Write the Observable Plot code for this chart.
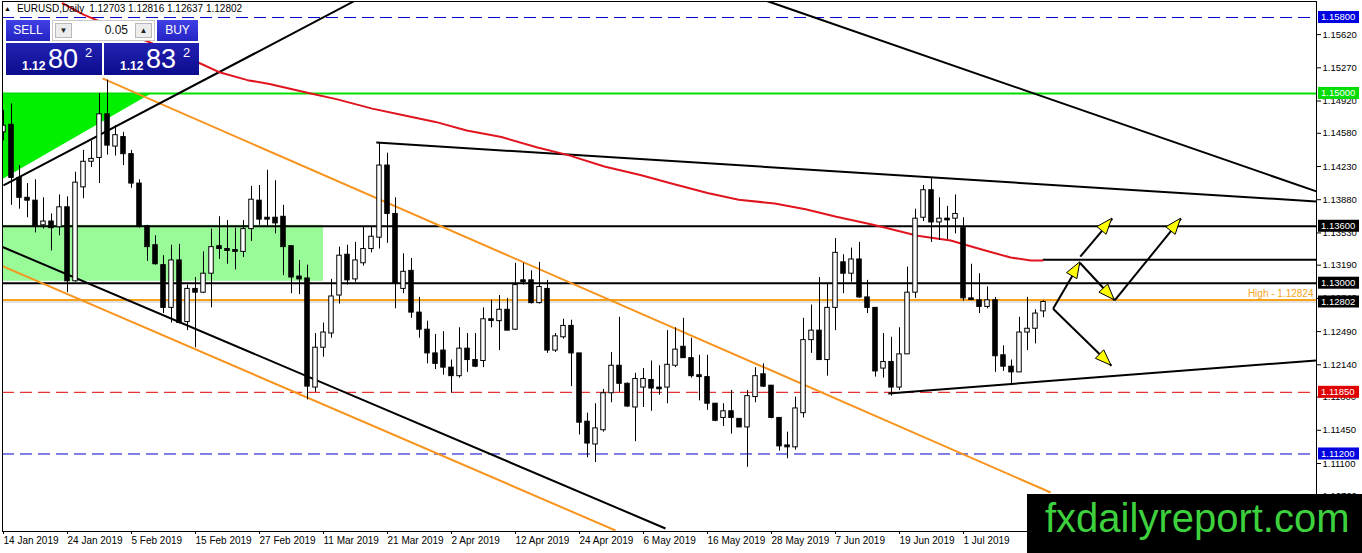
<!DOCTYPE html>
<html><head><meta charset="utf-8">
<script src="https://cdn.jsdelivr.net/npm/d3@7"></script>
<script src="https://cdn.jsdelivr.net/npm/@observablehq/plot@0.6"></script>
<style>
body{margin:0;background:#fff;overflow:hidden;font-family:"Liberation Sans",Arial,sans-serif}
#wrap{position:relative;width:1362px;height:553px;overflow:hidden}
#chart{position:absolute;left:0;top:0}
.abs{position:absolute}
#title{left:4px;top:3px;font-size:10px;color:#000;white-space:nowrap;line-height:12px}
#title .tri{font-size:7px;margin-right:6px;vertical-align:1px}
#title .q{margin-left:5px}
#sellBtn,#buyBtn{top:20px;height:21px;background:linear-gradient(#4040e6,#2424c4);color:#fff;font-size:12px;text-align:center;line-height:21px}
#sellBtn{left:6px;width:44px}
#buyBtn{left:157px;width:41px}
#lotBox{left:52px;top:20px;width:103px;height:21px;background:#fff;border:1px solid #c8c8c8;box-sizing:border-box}
#lotBox .btn{position:absolute;top:2px;width:17px;height:15px;background:#ececec;border:1px solid #b8b8b8;box-sizing:border-box;font-size:8px;line-height:13px;text-align:center;color:#222}
#lotBox .dn{left:2px}
#lotBox .up{right:2px}
#lotBox .lot{position:absolute;right:26px;top:0;line-height:19px;font-size:12px;color:#111}
.px{top:43px;height:32px;background:linear-gradient(#2222b4,#0c0c8c);color:#fff}
#sellPx{left:6px;width:96px}
#buyPx{left:104px;width:95px}
.px span{position:absolute;line-height:normal;white-space:nowrap}
.px .s{left:16px;top:16px;font-size:12px;font-weight:bold}
.px .b{left:42px;top:1px;font-size:27px}
.px .sup{left:79px;top:2px;font-size:13px}
#wm{left:1027px;top:494px;width:335px;height:59px;background:#000}
#wm span{position:absolute;left:18px;top:2px;font-size:40px;line-height:normal;color:#3dd23d;white-space:nowrap}
</style></head>
<body><div id="wrap"><div id="chart"></div>
<div id="title" class="abs"><span class="tri">▲</span>EURUSD,Daily<span class="q">1.12703 1.12816 1.12637 1.12802</span></div>
<div id="sellBtn" class="abs">SELL</div>
<div id="lotBox" class="abs"><div class="btn dn">▼</div><div class="lot">0.05</div><div class="btn up">▲</div></div>
<div id="buyBtn" class="abs">BUY</div>
<div id="sellPx" class="abs px"><span class="s">1.12</span><span class="b">80</span><span class="sup">2</span></div>
<div id="buyPx" class="abs px"><span class="s">1.12</span><span class="b">83</span><span class="sup">2</span></div>
<div id="wm" class="abs"><span>fxdailyreport.com</span></div>
</div>
<script>
// ---- Daily candles (bar index 0 = 14 Jan 2019) ----
const open = [1.1459,1.1467,1.1411,1.1390,1.1387,1.1361,1.1365,1.1359,1.1380,1.1302,
1.1401,1.1428,1.1432,1.1478,1.1444,1.1454,1.1436,1.1405,1.1360,1.1340,
1.1319,1.1274,1.1324,1.1259,1.1294,1.1290,1.1310,1.1339,1.1336,1.1335,
1.1333,1.1357,1.1387,1.1369,1.1369,1.1370,1.1339,1.1307,1.1305,1.1190,
1.1232,1.1247,1.1287,1.1330,1.1304,1.1321,1.1336,1.1348,1.1424,1.1373,
1.1294,1.1313,1.1269,1.1251,1.1226,1.1229,1.1211,1.1202,1.1231,1.1219,
1.1218,1.1262,1.1260,1.1272,1.1251,1.1303,1.1303,1.1279,1.1294,1.1229,
1.1243,1.1255,1.1226,1.1154,1.1130,1.1145,1.1184,1.1213,1.1194,1.1169,
1.1190,1.1198,1.1190,1.1190,1.1213,1.1233,1.1221,1.1203,1.1201,1.1173,
1.1158,1.1165,1.1157,1.1148,1.1180,1.1204,1.1192,1.1158,1.1129,1.1127,
1.1163,1.1240,1.1250,1.1219,1.1274,1.1322,1.1310,1.1325,1.1285,1.1274,
1.1210,1.1217,1.1190,1.1225,1.1290,1.1369,1.1398,1.1364,1.1368,1.1368,
1.1358,1.1284,1.1282,1.1275,1.1282,1.1224,1.1212,1.1206,1.1248,1.1252,
1.12703];
const high = [1.1482,1.1489,1.1424,1.1405,1.1409,1.1390,1.1373,1.1393,1.1391,1.1417,
1.1440,1.1450,1.1500,1.1514,1.1466,1.1459,1.1440,1.1409,1.1361,1.1350,
1.1329,1.1340,1.1341,1.1298,1.1306,1.1333,1.1357,1.1370,1.1366,1.1358,
1.1366,1.1402,1.1403,1.1419,1.1408,1.1382,1.1339,1.1324,1.1319,1.1247,
1.1258,1.1304,1.1338,1.1340,1.1343,1.1359,1.1359,1.1448,1.1437,1.1390,
1.1331,1.1326,1.1285,1.1260,1.1246,1.1249,1.1219,1.1253,1.1247,1.1247,
1.1274,1.1282,1.1287,1.1284,1.1321,1.1321,1.1313,1.1322,1.1303,1.1247,
1.1262,1.1261,1.1226,1.1163,1.1173,1.1188,1.1227,1.1264,1.1195,1.1205,
1.1210,1.1218,1.1213,1.1250,1.1253,1.1263,1.1242,1.1224,1.1224,1.1173,
1.1173,1.1187,1.1157,1.1187,1.1211,1.1215,1.1192,1.1158,1.1143,1.1180,
1.1263,1.1277,1.1306,1.1300,1.1347,1.1330,1.1337,1.1343,1.1303,1.1274,
1.1247,1.1243,1.1253,1.1317,1.1378,1.1403,1.1411,1.1390,1.1381,1.1393,
1.1369,1.1320,1.1310,1.1296,1.1285,1.1234,1.1219,1.1264,1.1285,1.1272,
1.12816];
const low = [1.1450,1.1382,1.1378,1.1369,1.1353,1.1357,1.1334,1.1350,1.1290,1.1301,
1.1389,1.1422,1.1405,1.1435,1.1434,1.1424,1.1400,1.1358,1.1323,1.1319,
1.1268,1.1258,1.1257,1.1250,1.1232,1.1289,1.1274,1.1325,1.1320,1.1314,
1.1327,1.1344,1.1361,1.1359,1.1352,1.1308,1.1289,1.1288,1.1177,1.1185,
1.1222,1.1242,1.1278,1.1298,1.1301,1.1318,1.1332,1.1336,1.1342,1.1273,
1.1289,1.1263,1.1242,1.1215,1.1209,1.1203,1.1184,1.1200,1.1206,1.1211,
1.1211,1.1253,1.1229,1.1250,1.1250,1.1298,1.1278,1.1278,1.1226,1.1227,
1.1241,1.1191,1.1140,1.1116,1.1111,1.1143,1.1174,1.1185,1.1169,1.1133,
1.1169,1.1165,1.1182,1.1173,1.1211,1.1221,1.1200,1.1176,1.1166,1.1154,
1.1149,1.1141,1.1148,1.1106,1.1174,1.1190,1.1157,1.1123,1.1115,1.1124,
1.1158,1.1226,1.1219,1.1202,1.1250,1.1289,1.1301,1.1284,1.1268,1.1201,
1.1200,1.1181,1.1187,1.1225,1.1284,1.1365,1.1343,1.1345,1.1346,1.1352,
1.1281,1.1282,1.1268,1.1273,1.1206,1.1207,1.1194,1.1206,1.1229,1.1236,
1.12637];
const close = [1.1466,1.1411,1.1390,1.1387,1.1360,1.1365,1.1358,1.1380,1.1302,1.1406,
1.1428,1.1431,1.1478,1.1445,1.1456,1.1436,1.1405,1.1360,1.1338,1.1320,
1.1274,1.1324,1.1258,1.1294,1.1290,1.1310,1.1338,1.1336,1.1334,1.1333,
1.1357,1.1388,1.1367,1.1367,1.1363,1.1338,1.1306,1.1304,1.1191,1.1232,
1.1248,1.1286,1.1329,1.1303,1.1324,1.1336,1.1349,1.1424,1.1373,1.1300,
1.1312,1.1269,1.1251,1.1226,1.1215,1.1211,1.1202,1.1231,1.1219,1.1212,
1.1262,1.1261,1.1272,1.1250,1.1298,1.1302,1.1279,1.1296,1.1229,1.1244,
1.1255,1.1226,1.1153,1.1131,1.1147,1.1184,1.1213,1.1194,1.1170,1.1199,
1.1199,1.1189,1.1189,1.1214,1.1230,1.1221,1.1202,1.1201,1.1173,1.1155,
1.1165,1.1158,1.1148,1.1181,1.1202,1.1191,1.1158,1.1128,1.1127,1.1168,
1.1240,1.1250,1.1219,1.1274,1.1332,1.1310,1.1325,1.1285,1.1274,1.1207,
1.1217,1.1190,1.1225,1.1290,1.1368,1.1398,1.1364,1.1368,1.1367,1.1373,
1.1284,1.1283,1.1275,1.1282,1.1223,1.1212,1.1206,1.1248,1.1252,1.1268,
1.12802];

// ---- time axis labels (every 8 bars) ----
const dateBars = [0,8,16,24,32,40,48,56,64,72,80,88,96,104,112,120,128];
const dateLabels = ["14 Jan 2019","24 Jan 2019","5 Feb 2019","15 Feb 2019","27 Feb 2019","11 Mar 2019","21 Mar 2019","2 Apr 2019","12 Apr 2019","24 Apr 2019","6 May 2019","16 May 2019","28 May 2019","7 Jun 2019","19 Jun 2019","1 Jul 2019","11 Jul 2019"];

// ---- price axis ----
const priceTicks = [1.1562,1.1527,1.1492,1.1458,1.1423,1.1388,1.1353,1.1319,1.1284,1.1249,1.1214,1.1180,1.1145,1.1110,1.1076];
const tagValues = [1.158,1.15,1.136,1.13,1.12802,1.1185,1.112];
const tagKinds  = ["blue","green","black","black","black","red","blue"];

// ---- horizontal levels ----
const blueLevels = [1.158,1.112];
const redLevels = [1.1185];
const greenLevels = [1.15];
const blackLevels = [1.136,1.13];
const highLevel = [1.12824];
const bidLevel = [1.12802];

// ---- zones ----
const zoneBars = [-0.125,40];
const zonePrices = [1.1302,1.1361];
const triBars = [-0.125,18.6];
const triLow = [1.1409,1.1500];
const triHigh = [1.1500,1.1500];

// ---- trend lines (bar index / price) ----
const blackX1 = [0,95.25,46.6,110.6,-0.125,129.9];
const blackY1 = [1.1403,1.1598,1.14483,1.11838,1.13382,1.13247];
const blackX2 = [44,164.125,164.125,164.125,82.75,164.125];
const blackY2 = [1.1598,1.13967,1.13861,1.12186,1.10415,1.13247];
const orangeX1 = [12.375,-0.125];
const orangeY1 = [1.15158,1.1318];
const orangeX2 = [130.9,76.5];
const orangeY2 = [1.10794,1.10394];

// ---- moving average (red) ----
const maBar = [7.4,10,24.75,27.1,30.5,33.25,38.4,41.6,46.1,50,54,57.9,62.25,66.75,70.6,75.1,79.6,83.5,88,91.9,96.4,100.25,104.1,108,110,114.25,118.4,120,122.5,125.9,128.4,129.9];
const maVal = [1.1595,1.1583,1.1531,1.1522,1.1514,1.1510,1.1500,1.1494,1.1484,1.1477,1.1470,1.1461,1.1454,1.1443,1.1435,1.1423,1.1414,1.1405,1.1395,1.1388,1.1384,1.1378,1.1370,1.1363,1.1359,1.1350,1.1345,1.1341,1.1335,1.1327,1.1324,1.1324];

// ---- projection arrows ----
const arrowX1 = [131.2,134.6,134.6,138.9,131.2];
const arrowY1 = [1.1273,1.1328,1.1321,1.1282,1.1273];
const arrowX2 = [134.6,138.6,138.9,147.2,138.5];
const arrowY2 = [1.1322,1.1368,1.1282,1.1368,1.1213];

// ---------------- build ----------------
const bars = open.map((o,i)=>({i,o,h:high[i],l:low[i],c:close[i]}));
const half = 0.28;
const tagColor = {blue:"#0000e0", green:"#00dc00", black:"#000000", red:"#e00000"};
const links = (x1,y1,x2,y2)=>x1.map((_,k)=>({x1:x1[k],y1:y1[k],x2:x2[k],y2:y2[k]}));
const blackLinks = links(blackX1,blackY1,blackX2,blackY2);
const orangeLinks = links(orangeX1,orangeY1,orangeX2,orangeY2);
const arrowLinks = links(arrowX1,arrowY1,arrowX2,arrowY2);
const ma = maBar.map((b,k)=>({b,v:maVal[k]}));
const tri = triBars.map((b,k)=>({b,lo:triLow[k],hi:triHigh[k]}));

function arrowHeads(index, scales, values, dims){
  const g = d3.create("svg:g");
  arrowLinks.forEach(a=>{
    const x1=scales.x(a.x1), y1=scales.y(a.y1), x2=scales.x(a.x2), y2=scales.y(a.y2);
    const dx=x2-x1, dy=y2-y1, len=Math.hypot(dx,dy), ux=dx/len, uy=dy/len;
    const L=16, w=6, bx=x2-ux*L, by=y2-uy*L;
    const pts=[[x2,y2],[bx-uy*w,by+ux*w],[bx+uy*w,by-ux*w]];
    g.append("polygon").attr("points",pts.map(p=>p.join(",")).join(" "))
      .attr("fill","#ffff00").attr("stroke","#000").attr("stroke-width",1);
  });
  return g.node();
}
function priceTags(index, scales, values, dims){
  const g = d3.create("svg:g").attr("text-anchor","start");
  const x0 = dims.width - dims.marginRight + 2;
  tagValues.forEach((v,k)=>{
    const y = scales.y(v);
    g.append("rect").attr("x",x0).attr("y",y-6).attr("width",41).attr("height",12).attr("fill",tagColor[tagKinds[k]]);
    g.append("text").attr("x",x0+3).attr("y",y).attr("dy","0.35em").attr("fill","#fff")
      .attr("text-anchor","start").attr("font-size",9.5).text(v.toFixed(5));
  });
  return g.node();
}

const chart = Plot.plot({
  width:1362, height:553,
  marginLeft:2, marginRight:46, marginTop:1, marginBottom:22,
  x:{domain:[-0.125,164.125], axis:null},
  y:{domain:[1.10383,1.15969], axis:null},
  style:{fontFamily:'"Liberation Sans", Arial, sans-serif', fontSize:"10px", background:"#fff", overflow:"visible"},
  marks:[
    Plot.rect([0],{x1:()=>zoneBars[0], x2:()=>zoneBars[1], y1:()=>zonePrices[0], y2:()=>zonePrices[1], fill:"#98fb98"}),
    Plot.areaY(tri,{x:"b", y1:"lo", y2:"hi", fill:"#00f000", curve:"linear"}),
    Plot.ruleY(bidLevel,{stroke:"#c4c4c4", strokeWidth:1}),
    Plot.ruleY(blueLevels,{stroke:"#0000c8", strokeWidth:1, strokeDasharray:"12,6"}),
    Plot.ruleY(redLevels,{stroke:"#e00000", strokeWidth:1, strokeDasharray:"12,6"}),
    Plot.ruleY(greenLevels,{stroke:"#00e000", strokeWidth:2}),
    Plot.ruleY(blackLevels,{stroke:"#000", strokeWidth:2}),
    Plot.ruleY(highLevel,{stroke:"#f7a21b", strokeWidth:2}),
    Plot.text(highLevel,{y:d=>d, frameAnchor:"right", text:d=>"High - "+d.toFixed(5), textAnchor:"end", dx:-3, dy:-6, fill:"#f5a623", fontSize:10}),
    Plot.link(orangeLinks,{x1:"x1",y1:"y1",x2:"x2",y2:"y2", stroke:"#f7941d", strokeWidth:2, clip:true}),
    Plot.link(blackLinks,{x1:"x1",y1:"y1",x2:"x2",y2:"y2", stroke:"#000", strokeWidth:2, clip:true}),
    Plot.line(ma,{x:"b", y:"v", stroke:"#e0141e", strokeWidth:2, clip:true}),
    Plot.ruleX(bars,{x:"i", y1:"l", y2:"h", stroke:"#000", strokeWidth:1, clip:true}),
    Plot.rect(bars.filter(d=>d.c>=d.o),{x1:d=>d.i-half, x2:d=>d.i+half, y1:"o", y2:"c", fill:"#fff", stroke:"#000", strokeWidth:1, clip:true}),
    Plot.rect(bars.filter(d=>d.c<d.o),{x1:d=>d.i-half, x2:d=>d.i+half, y1:"o", y2:"c", fill:"#000", stroke:"#000", strokeWidth:1, clip:true}),
    Plot.ruleY(bars.filter(d=>Math.abs(d.c-d.o)<0.00015),{x1:d=>d.i-half-0.06, x2:d=>d.i+half+0.06, y:"c", stroke:"#000", strokeWidth:1.5}),
    Plot.link(arrowLinks,{x1:"x1",y1:"y1",x2:"x2",y2:"y2", stroke:"#000", strokeWidth:2}),
    arrowHeads,
    Plot.frame({stroke:"#000"}),
    Plot.axisY({anchor:"right", ticks:priceTicks, tickFormat:d=>d.toFixed(5), tickSize:4, tickPadding:2, label:null, fontSize:9.5}),
    Plot.axisX({anchor:"bottom", ticks:dateBars, tickFormat:d=>dateLabels[dateBars.indexOf(d)], textAnchor:"start", tickSize:3, tickPadding:2, label:null, fontSize:10}),
    priceTags
  ]
});
document.getElementById("chart").appendChild(chart);
</script>
</body></html>
